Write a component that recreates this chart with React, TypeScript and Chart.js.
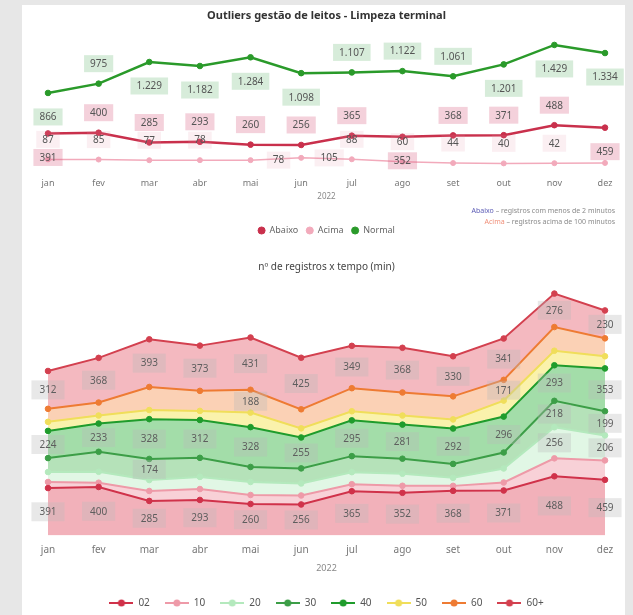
import React, { useEffect, useRef } from 'react';
import { Chart, registerables } from 'chart.js';

Chart.register(...registerables);

const FONT = "'Segoe UI', 'Noto Sans', 'DejaVu Sans', sans-serif";
Chart.defaults.font.family = FONT;

// ---------- data ----------
const months = ['jan', 'fev', 'mar', 'abr', 'mai', 'jun', 'jul', 'ago', 'set', 'out', 'nov', 'dez'];
const yearTitle = '2022';

// top chart: Outliers gestão de leitos
const abaixo = [391, 400, 285, 293, 260, 256, 365, 352, 368, 371, 488, 459];
const acima = [87, 85, 77, 78, 78, 105, 88, 60, 44, 40, 42, 45];
const normal = [866, 975, 1229, 1182, 1284, 1098, 1107, 1122, 1061, 1201, 1429, 1334];

// bottom chart: nº de registros x tempo (min)
const s02 = [391, 400, 285, 293, 260, 256, 365, 352, 368, 371, 488, 459];
const s10 = [50, 35, 82, 90, 74, 74, 58, 58, 41, 66, 148, 160];
const s20 = [82, 90, 90, 100, 107, 99, 99, 99, 66, 115, 256, 206];
const s30 = [115, 165, 174, 157, 124, 124, 132, 124, 115, 132, 218, 199];
const s40 = [224, 233, 328, 312, 328, 255, 295, 281, 292, 296, 293, 353];
const s50 = [75, 66, 75, 75, 120, 75, 75, 75, 75, 132, 120, 100];
const s60 = [107, 107, 190, 165, 188, 157, 190, 190, 190, 171, 195, 148];
const s60p = [312, 368, 393, 373, 431, 425, 349, 368, 330, 341, 276, 230];

// ---------- label placement (styles) ----------
const normalPos = ['below', 'above', 'below', 'below', 'below', 'below', 'above', 'above', 'above', 'below', 'below', 'below'];
const abaixoPos = ['below', 'above', 'above', 'above', 'above', 'above', 'above', 'below', 'above', 'above', 'above', 'below'];
const acimaPos = ['above', 'above', 'above', 'above', 'right', 'right', 'above', 'above', 'above', 'above', 'above', 'none'];

const ALL = months.map(() => true);
const show60 = [false, false, false, false, true, false, false, false, false, true, false, false];
const show30 = [false, false, true, false, false, false, false, false, false, false, true, true];
const show20 = [false, false, false, false, false, false, false, false, false, false, true, true];

const fmt = (v: number) => String(v).replace(/\B(?=(\d{3})+(?!\d))/g, '.');

const pointLabels = {
  id: 'pointLabels',
  afterDatasetsDraw(chart: any) {
    const ctx = chart.ctx;
    ctx.save();
    ctx.font = `10px ${FONT}`;
    ctx.textAlign = 'center';
    ctx.textBaseline = 'middle';
    chart.data.datasets.forEach((ds: any, i: number) => {
      const pos = ds.labelPos;
      if (!pos) return;
      const meta = chart.getDatasetMeta(i);
      meta.data.forEach((pt: any, j: number) => {
        const p = pos[j];
        if (p === 'none') return;
        let x = pt.x;
        let y = pt.y;
        if (p === 'above') y -= 20;
        else if (p === 'below') y += 24;
        else if (p === 'right') x += 28;
        const text = fmt(ds.data[j]);
        const w = ctx.measureText(text).width + 12;
        const h = 17;
        ctx.fillStyle = ds.labelBox;
        ctx.fillRect(x - w / 2, y - h / 2, w, h);
        ctx.fillStyle = '#555';
        ctx.fillText(text, x, y + 0.5);
      });
    });
    ctx.restore();
  },
};

const notesPlugin = {
  id: 'notes',
  afterDraw(chart: any) {
    const ctx = chart.ctx;
    const lines = [
      { key: 'Abaixo', keyColor: '#5b5bb5', rest: ' – registros com menos de 2 minutos', y: 206 },
      { key: 'Acima', keyColor: '#f0907a', rest: ' – registros acima de 100 minutos', y: 217 },
    ];
    ctx.save();
    ctx.font = `7px ${FONT}`;
    ctx.textBaseline = 'middle';
    ctx.textAlign = 'left';
    const right = 593;
    lines.forEach((l) => {
      const wr = ctx.measureText(l.rest).width;
      const wk = ctx.measureText(l.key).width;
      ctx.fillStyle = l.keyColor;
      ctx.fillText(l.key, right - wr - wk, l.y);
      ctx.fillStyle = '#8a8a8a';
      ctx.fillText(l.rest, right - wr, l.y);
    });
    ctx.restore();
  },
};

const bandLabels = {
  id: 'bandLabels',
  afterDatasetsDraw(chart: any) {
    const ctx = chart.ctx;
    const base = chart.scales.y.getPixelForValue(0);
    ctx.save();
    ctx.font = `10px ${FONT}`;
    ctx.textAlign = 'center';
    ctx.textBaseline = 'middle';
    chart.data.datasets.forEach((ds: any, i: number) => {
      const show = ds.showLabels;
      if (!show) return;
      const meta = chart.getDatasetMeta(i);
      const prev = i > 0 ? chart.getDatasetMeta(i - 1) : null;
      meta.data.forEach((pt: any, j: number) => {
        if (!show[j]) return;
        const top = pt.y;
        const bottom = prev ? prev.data[j].y : base;
        const cy = (top + bottom) / 2;
        const text = fmt(ds.data[j]);
        const w = ctx.measureText(text).width + 16;
        const h = 19;
        ctx.fillStyle = 'rgba(185,185,185,0.33)';
        ctx.fillRect(pt.x - w / 2, cy - h / 2, w, h);
        ctx.fillStyle = '#5e5e5e';
        ctx.fillText(text, pt.x, cy + 0.5);
      });
    });
    ctx.restore();
  },
};

function legendIcon(color: string) {
  const c = document.createElement('canvas');
  c.width = 24;
  c.height = 10;
  const g = c.getContext('2d')!;
  g.strokeStyle = color;
  g.lineWidth = 2;
  g.beginPath();
  g.moveTo(0, 5);
  g.lineTo(24, 5);
  g.stroke();
  g.fillStyle = color;
  g.beginPath();
  g.arc(12, 5, 3.5, 0, Math.PI * 2);
  g.fill();
  return c;
}

function TopChart() {
  const ref = useRef<HTMLCanvasElement>(null);
  useEffect(() => {
    const chart = new Chart(ref.current!, {
      type: 'line',
      data: {
        labels: months,
        datasets: [
          {
            label: 'Abaixo', data: abaixo, borderColor: '#c9304c', backgroundColor: '#c9304c',
            borderWidth: 2.5, pointRadius: 2.8, pointBorderWidth: 1, clip: false, labelPos: abaixoPos, labelBox: 'rgba(215,90,125,0.28)',
          } as any,
          {
            label: 'Acima', data: acima, borderColor: '#f2aabb', backgroundColor: '#f2aabb',
            borderWidth: 1.5, pointRadius: 2.5, pointBorderWidth: 1, clip: false, labelPos: acimaPos, labelBox: 'rgba(230,150,170,0.15)',
          } as any,
          {
            label: 'Normal', data: normal, borderColor: '#2a9a2a', backgroundColor: '#2a9a2a',
            borderWidth: 2.5, pointRadius: 2.8, pointBorderWidth: 1, clip: false, labelPos: normalPos, labelBox: 'rgba(140,200,150,0.35)',
          } as any,
        ],
      },
      options: {
        responsive: false,
        animation: false,
        layout: { padding: { left: 26, right: 20, top: 0, bottom: 0 } },
        plugins: {
          title: {
            display: true,
            text: 'Outliers gestão de leitos - Limpeza terminal',
            font: { size: 11, weight: 'bold' },
            color: '#333',
            padding: { top: 4.4, bottom: 11 },
          },
          legend: {
            position: 'bottom',
            labels: {
              usePointStyle: true, pointStyle: 'circle', boxWidth: 7, boxHeight: 5,
              padding: 8, font: { size: 9 }, color: '#666',
            },
          },
          tooltip: { enabled: false },
        },
        scales: {
          x: {
            grid: { display: false, drawTicks: false },
            border: { display: false },
            ticks: { padding: 10.8, font: { size: 9 }, color: '#777' },
            title: { display: true, text: yearTitle, font: { size: 8 }, color: '#888', padding: { top: -7, bottom: 16.2 } },
          },
          y: { display: false, min: 0, max: 1562 },
        },
      } as any,
      plugins: [pointLabels, notesPlugin],
    });
    return () => chart.destroy();
  }, []);
  return <canvas ref={ref} width={603} height={240} style={{ display: 'block' }} />;
}

function BottomChart() {
  const ref = useRef<HTMLCanvasElement>(null);
  useEffect(() => {
    const mk = (label: string, data: number[], line: string, fill: string, show?: boolean[], fillTo: any = '-1') => ({
      label, data, borderColor: line, backgroundColor: line, fill: { target: fillTo, above: fill, below: fill },
      borderWidth: 2, pointRadius: 2.8, pointBorderWidth: 1, pointBackgroundColor: line, pointBorderColor: line,
      clip: false, showLabels: show, legendColor: line,
    });
    const chart = new Chart(ref.current!, {
      type: 'line',
      data: {
        labels: months,
        datasets: [
          mk('02', s02, '#d0324a', 'rgba(225,70,90,0.42)', ALL, 'origin'),
          mk('10', s10, '#ee9aa8', 'rgba(238,140,155,0.4)'),
          mk('20', s20, '#b4e9bd', 'rgba(180,235,190,0.4)', show20),
          mk('30', s30, '#3c9e47', 'rgba(90,190,100,0.45)', show30),
          mk('40', s40, '#1f9c2c', 'rgba(50,180,65,0.45)', ALL),
          mk('50', s50, '#f0de5a', 'rgba(245,230,90,0.5)'),
          mk('60', s60, '#ee7b33', 'rgba(245,140,70,0.4)', show60),
          mk('60+', s60p, '#d3404f', 'rgba(225,70,90,0.38)', ALL),
        ] as any,
      },
      options: {
        responsive: false,
        animation: false,
        layout: { padding: { left: 26, right: 20, top: 0, bottom: 0 } },
        plugins: {
          title: {
            display: true,
            text: 'nº de registros x tempo (min)',
            font: { size: 10, weight: 'normal' },
            color: '#444',
            padding: { top: 15.7, bottom: 8 },
          },
          legend: {
            position: 'bottom',
            labels: {
              usePointStyle: true, boxWidth: 24, pointStyleWidth: 24, boxHeight: 10,
              padding: 15, font: { size: 10 }, color: '#555',
              generateLabels: (c: any) =>
                c.data.datasets.map((ds: any, i: number) => ({
                  text: ds.label,
                  pointStyle: legendIcon(ds.legendColor),
                  fillStyle: ds.legendColor,
                  strokeStyle: ds.legendColor,
                  lineWidth: 0,
                  fontColor: '#555',
                  hidden: false,
                  datasetIndex: i,
                })),
            },
          },
          tooltip: { enabled: false },
        },
        scales: {
          x: {
            grid: { display: false, drawTicks: false },
            border: { display: false },
            ticks: { padding: 8.5, font: { size: 10 }, color: '#777' },
            title: { display: true, text: yearTitle, font: { size: 9 }, color: '#888', padding: { top: -1.9, bottom: 9.6 } },
          },
          y: { display: false, stacked: true, min: 0, max: 2100 },
        },
      } as any,
      plugins: [bandLabels],
    });
    return () => chart.destroy();
  }, []);
  return <canvas ref={ref} width={603} height={373} style={{ display: 'block' }} />;
}

export default function App() {
  return (
    <div style={{ position: 'fixed', left: 0, top: 0, width: 633, height: 615, background: '#e7e7e7', overflow: 'hidden' }}>
      <div style={{ position: 'absolute', left: 22, top: 5, width: 603, height: 620, background: '#ffffff' }}>
        <div style={{ position: 'absolute', left: 0, top: 0 }}>
          <TopChart />
        </div>
        <div style={{ position: 'absolute', left: 0, top: 240 }}>
          <BottomChart />
        </div>
      </div>
    </div>
  );
}
